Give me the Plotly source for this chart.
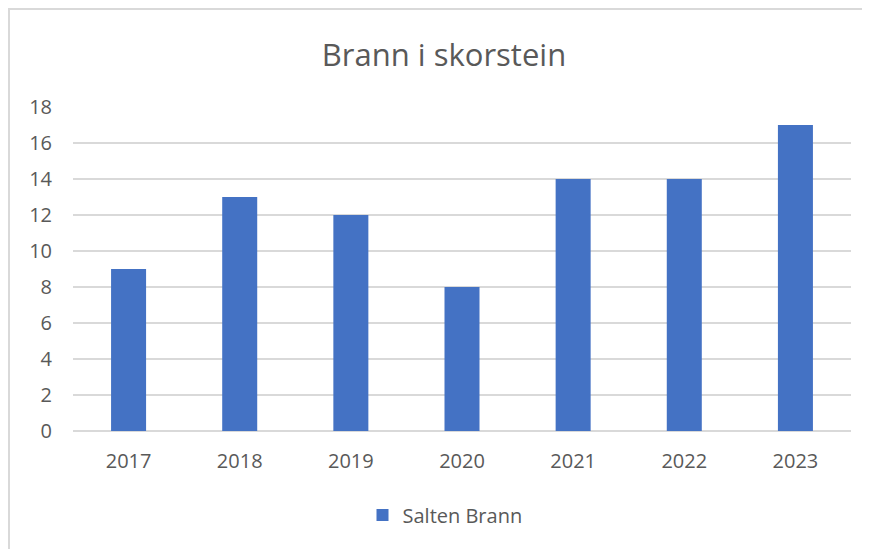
import plotly.graph_objects as go

years = ["2017", "2018", "2019", "2020", "2021", "2022", "2023"]
fires = [9, 13, 12, 8, 14, 14, 17]
y_ticks = [0, 2, 4, 6, 8, 10, 12, 14, 16, 18]

grey_text = "#595959"
grid = "#d9d9d9"
font_name = "Open Sans"

# the page body adds an 8px margin, so everything is placed 8px up/left
L, T, R, B = 65, 99, 27, 126
W, H = 870, 549
pw, ph = W - L - R, H - T - B


def px(x):
    return (x - L) / pw


def py(y):
    return (H - B - y) / ph


fig = go.Figure()
fig.add_trace(go.Bar(x=years, y=fires, name="Salten Brann",
                     marker=dict(color="#4472C4", line=dict(width=0))))

fig.update_layout(
    width=W, height=H,
    margin=dict(l=L, r=R, t=T, b=B),
    paper_bgcolor="white", plot_bgcolor="white",
    font=dict(family=font_name, color=grey_text, size=20),
    title=dict(text="Brann i skorstein", xref="paper", x=px(436), xanchor="center",
               y=1 - 47 / H, yanchor="middle",
               font=dict(size=31, color=grey_text, family=font_name)),
    bargap=0.685,
    showlegend=True,
    legend=dict(orientation="h", x=px(437), xanchor="center",
                y=py(507), yanchor="middle",
                font=dict(size=20, color=grey_text)),
    xaxis=dict(type="category", showline=False, showgrid=False,
               ticks="", ticklabelstandoff=16),
    yaxis=dict(range=[0, 18], tickvals=y_ticks, showgrid=True,
               gridcolor=grid, gridwidth=2, zeroline=True,
               zerolinecolor=grid, zerolinewidth=2, showline=False,
               ticks="", ticklabelstandoff=20),
)

# light border around the chart area (cut off at the right and bottom)
fig.add_shape(type="rect", xref="paper", yref="paper",
              x0=px(1), x1=px(885), y0=py(565), y1=py(1),
              line=dict(color=grid, width=2), fillcolor="rgba(0,0,0,0)",
              layer="below")

fig.write_html("out.html")
